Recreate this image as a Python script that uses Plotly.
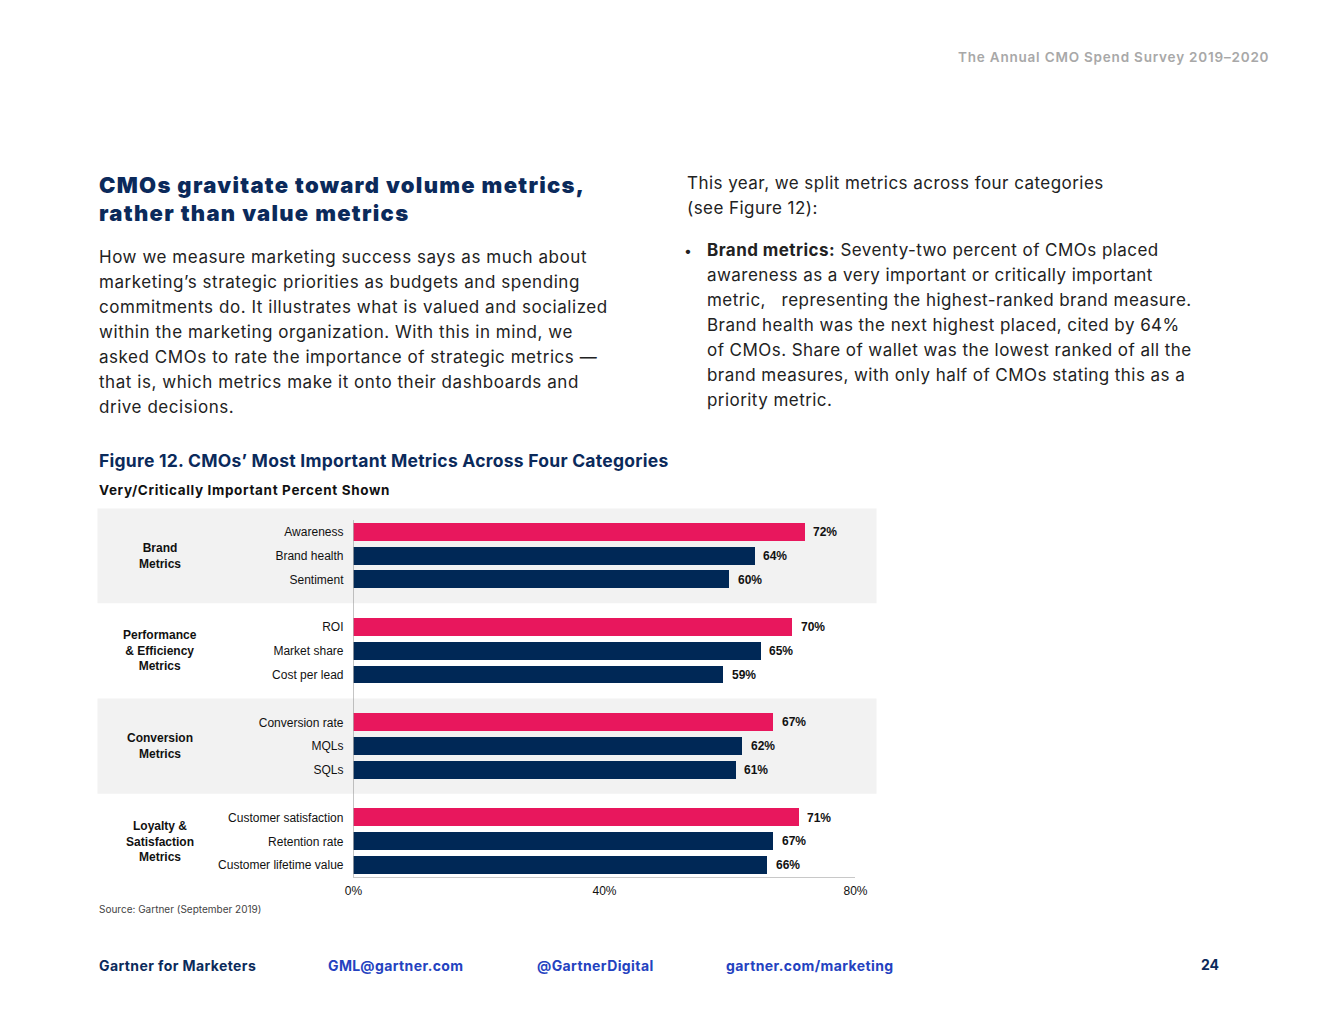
import plotly.graph_objects as go

# figure sized to fit the viewport inside the default 8px page margin
W, H = 1304, 1004
OFF = 8
# horizontal correction observed in the rendered photograph
SX, BX = 0.98, 12.0

# ---------------- data ----------------
groups = ["Brand<br>Metrics",
          "Performance<br>& Efficiency<br>Metrics",
          "Conversion<br>Metrics",
          "Loyalty &<br>Satisfaction<br>Metrics"]
metrics = ["Awareness", "Brand health", "Sentiment",
           "ROI", "Market share", "Cost per lead",
           "Conversion rate", "MQLs", "SQLs",
           "Customer satisfaction", "Retention rate", "Customer lifetime value"]
values = [72, 64, 60, 70, 65, 59, 67, 62, 61, 71, 67, 66]
group_of = [0, 0, 0, 1, 1, 1, 2, 2, 2, 3, 3, 3]
x_ticks = [0, 40, 80]
x_tick_labels = ["0%", "40%", "80%"]

PINK = "#E8175D"
NAVY = "#002856"

# slot positions: 3 bars per group + 1 empty slot between groups
slots = []
rank = []
cnt = {}
for g in group_of:
    i = cnt.get(g, 0)
    cnt[g] = i + 1
    slots.append(g * 4 + i)
    rank.append(i)
colors = [PINK if r == 0 else NAVY for r in rank]


def px(x):
    page = (x - BX) / SX
    return (page - OFF) / W


def py(y):
    return 1 - (y - OFF) / H


fig = go.Figure()
fig.add_trace(go.Bar(
    x=values, y=slots, orientation="h", width=0.75,
    marker=dict(color=colors, line=dict(width=0)),
    hoverinfo="skip", showlegend=False,
))

# plot area (page pixel geometry)
X0, X1 = 355, 855
Y_TOP, Y_BOT = 508.2, 877

fig.update_layout(
    width=W, height=H,
    margin=dict(l=0, r=0, t=0, b=0),
    paper_bgcolor="white", plot_bgcolor="rgba(0,0,0,0)",
    bargap=0,
    xaxis=dict(domain=[px(X0), px(X1)], range=[0, 80], showgrid=False, zeroline=False,
               showline=True, linecolor="#c8c8c8", linewidth=1,
               tickvals=x_ticks, ticktext=x_tick_labels, ticks="",
               ticklabelstandoff=3,
               tickfont=dict(family="Liberation Sans, Arial", size=12, color="#111")),
    yaxis=dict(domain=[py(Y_BOT), py(Y_TOP)], range=[14.5, -1], showgrid=False,
               zeroline=False, showline=False,
               tickvals=slots, ticktext=metrics, ticks="",
               ticklabelstandoff=9,
               tickfont=dict(family="Liberation Sans, Arial", size=12, color="#111")),
)

shapes = []
# grey bands behind groups 1 and 3
for g in (0, 2):
    shapes.append(dict(type="rect", xref="paper", yref="y",
                       x0=px(100), x1=px(876), y0=g * 4 - 1, y1=g * 4 + 3,
                       fillcolor="#F2F2F2", line=dict(width=0), layer="below"))
# vertical baseline
shapes.append(dict(type="line", xref="x", yref="y", x0=0, x1=0, y0=-0.5, y1=14.5,
                   line=dict(color="#8a8a8a", width=1)))
fig.update_layout(shapes=shapes)

ann = []
# value labels
for v, s in zip(values, slots):
    ann.append(dict(x=v, y=s, xref="x", yref="y", text=f"<b>{v}%</b>",
                    showarrow=False, xanchor="left", yanchor="middle", xshift=6,
                    font=dict(family="Liberation Sans, Arial", size=12, color="#111")))
# group labels
for g, name in enumerate(groups):
    ann.append(dict(x=px(162), y=g * 4 + 1, xref="paper", yref="y",
                    text=f"<b>{name}</b>", showarrow=False, xanchor="center",
                    yanchor="middle", align="center",
                    font=dict(family="Liberation Sans, Arial", size=12, color="#111")))

BODY = "Inter, Noto Sans, sans-serif"


def txt(x, y, s, size, color, weight=400, anchor="left", ls=0.0, family=BODY):
    if ls:
        s = f'<span style="letter-spacing:{ls}px">{s}</span>'
    ann.append(dict(x=px(x), y=py(y), xref="paper", yref="paper", text=s,
                    showarrow=False, xanchor=anchor, yanchor="middle", align=anchor,
                    font=dict(family=family, size=size, color=color, weight=weight)))


# header
txt(1269, 57, "The Annual CMO Spend Survey 2019–2020", 13.5, "#A8A8A8", weight=600,
    anchor="right", ls=0.8)
# title
TITLE = "#0B2A5B"
txt(100, 185.5, "CMOs gravitate toward volume metrics,", 22, TITLE, weight=900, ls=1.3)
txt(100, 212.5, "rather than value metrics", 22, TITLE, weight=900, ls=1.3)
# left paragraph
left_lines = [
    "How we measure marketing success says as much about",
    "marketing’s strategic priorities as budgets and spending",
    "commitments do. It illustrates what is valued and socialized",
    "within the marketing organization. With this in mind, we",
    "asked CMOs to rate the importance of strategic metrics —",
    "that is, which metrics make it onto their dashboards and",
    "drive decisions.",
]
for i, line in enumerate(left_lines):
    txt(100, 257 + 25 * i, line, 17, "#222", ls=0.55)
# right column
txt(685, 183, "This year, we split metrics across four categories", 17, "#222", ls=0.45)
txt(685, 208, "(see Figure 12):", 17, "#222", ls=0.45)
txt(682, 250, "•", 14, "#222")
right_lines = [
    "<b>Brand metrics:</b> Seventy-two percent of CMOs placed",
    "awareness as a very important or critically important",
    "metric,   representing the highest-ranked brand measure.",
    "Brand health was the next highest placed, cited by 64%",
    "of CMOs. Share of wallet was the lowest ranked of all the",
    "brand measures, with only half of CMOs stating this as a",
    "priority metric.",
]
for i, line in enumerate(right_lines):
    txt(705, 250 + 25 * i, line, 17, "#222", ls=0.45)
# figure title
txt(100, 460, "Figure 12. CMOs’ Most Important Metrics Across Four Categories", 17.5,
    TITLE, weight=700, ls=0.25)
txt(100, 490, "Very/Critically Important Percent Shown", 13.5, "#111", weight=700, ls=0.65)
# source
txt(100, 909, "Source: Gartner (September 2019)", 10, "#444")
# footer
txt(100, 965, "Gartner for Marketers", 14, TITLE, weight=700, ls=0.4)
txt(328, 965, "GML@gartner.com", 14, "#2442C0", weight=700, ls=0.4)
txt(536, 965, "@GartnerDigital", 14, "#2442C0", weight=700, ls=0.4)
txt(724, 965, "gartner.com/marketing", 14, "#2442C0", weight=700, ls=0.4)
txt(1219, 964, "24", 14, TITLE, weight=700, anchor="right")

fig.update_layout(annotations=ann)
fig.write_html("out.html")
